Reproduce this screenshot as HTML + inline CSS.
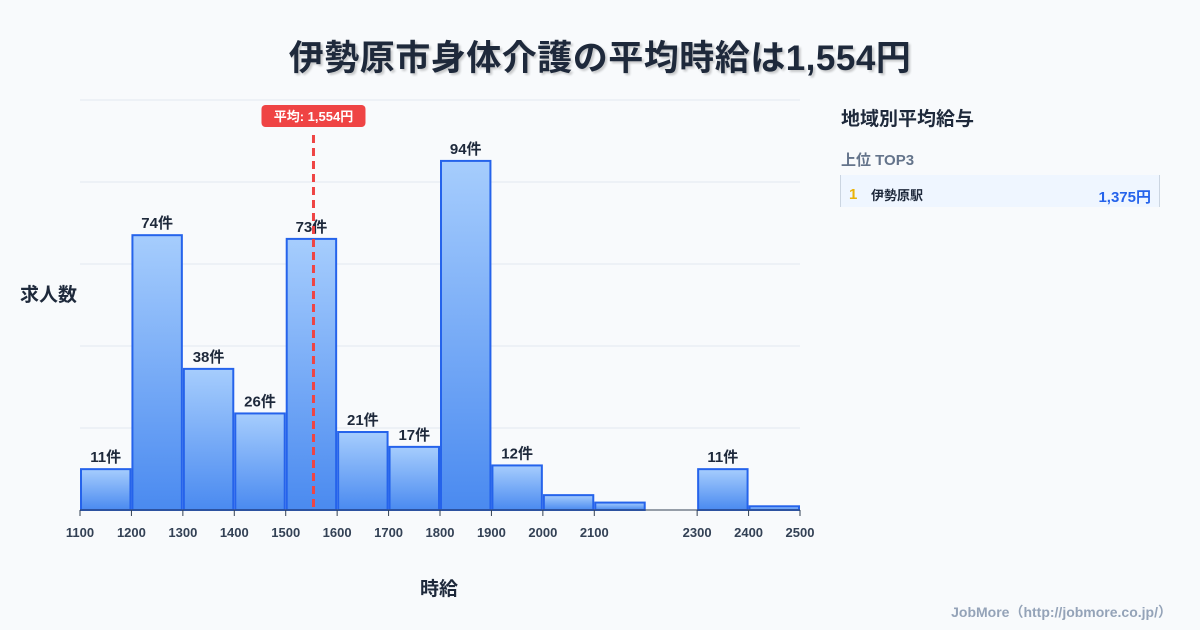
<!DOCTYPE html>
<html><head><meta charset="utf-8"><style>
body{margin:0;width:1200px;height:630px;background:#f8fafc;font-family:"Liberation Sans","Noto Sans CJK JP",sans-serif;overflow:hidden;position:relative}
.t{position:absolute}
</style></head><body>
<div class="t" style="left:0;width:1200px;top:30px;text-align:center;font-size:35px;letter-spacing:0.5px;font-weight:bold;color:#1e293b;text-shadow:2px 2px 2px rgba(0,0,0,0.2)">伊勢原市身体介護の平均時給は1,554円</div>
<svg id="c" class="t" style="left:0;top:0" width="820" height="630">
<defs><linearGradient id="g" x1="0" y1="0" x2="0" y2="1"><stop offset="0" stop-color="#a6cdfd"/><stop offset="1" stop-color="#4a8af0"/></linearGradient></defs>
</svg>
<div class="t" style="left:20px;top:280px;font-size:19px;font-weight:bold;color:#1e293b">求人数</div>
<div class="t" style="left:420px;top:574px;font-size:19px;font-weight:bold;color:#1e293b">時給</div>
<div class="t" style="left:841px;top:104px;font-size:19px;font-weight:bold;color:#1e293b">地域別平均給与</div>
<div class="t" style="left:841px;top:149px;font-size:15px;font-weight:bold;color:#64748b">上位 TOP3</div>
<div class="t" style="left:840px;top:175px;width:320px;height:32px;background:#eff6ff;border-left:1px solid #cbd5e1;border-right:1px solid #cbd5e1;box-sizing:border-box">
<span class="t" style="left:8px;top:11px;font-size:15px;font-weight:bold;color:#eab308">1</span>
<span class="t" style="left:30px;top:10px;font-size:13px;font-weight:bold;color:#1e293b">伊勢原駅</span>
<span class="t" style="right:8px;top:11px;font-size:15px;font-weight:bold;color:#2563eb">1,375円</span>
</div>
<div class="t" style="right:28px;top:602px;font-size:14px;font-weight:bold;color:#94a3b8">JobMore（http://jobmore.co.jp/）</div>
<script>
const binStarts=[1100,1200,1300,1400,1500,1600,1700,1800,1900,2000,2100,2400,2300];
const counts=[11,74,38,26,73,21,17,94,12,4,2,1,11];
const tickLabels=[1100,1200,1300,1400,1500,1600,1700,1800,1900,2000,2100,2300,2400,2500];
const avgWage=1554;
const ns="http://www.w3.org/2000/svg";
const svg=document.getElementById('c');
const x=v=>80+(v-1100)*720/1400;
const yMax=110.4;
const y=v=>510-v*410/yMax;
function mk(t,a){const e=document.createElementNS(ns,t);for(const k in a)e.setAttribute(k,a[k]);svg.appendChild(e);return e;}
for(let i=1;i<=5;i++){const gy=510-i*82;const l=mk('line',{x1:80,x2:800,y1:gy,y2:gy,stroke:'#e2e8f0','stroke-width':1});

}
binStarts.forEach((b,i)=>{const x0=x(b)+1,x1=x(b+100)-1,top=y(counts[i]);
const r=mk('rect',{x:x0,y:top,width:x1-x0,height:510-top,fill:'url(#g)',stroke:'#2563eb','stroke-width':2});


if(counts[i]>=10){const t=mk('text',{x:(x0+x1)/2,y:top-7,'text-anchor':'middle','font-size':15,'font-weight':'bold',fill:'#1e293b'});t.textContent=counts[i]+'件';

}});
const ax=mk('line',{x1:80,x2:800,y1:510,y2:510,stroke:'#334155','stroke-width':1});


tickLabels.forEach(v=>{mk('line',{x1:x(v),x2:x(v),y1:510,y2:516,stroke:'#334155'});
const t=mk('text',{x:x(v),y:537,'text-anchor':'middle','font-size':13,'font-weight':'bold',fill:'#334155'});t.textContent=v;

});
const ax2=x(avgWage);
const dl=mk('line',{x1:ax2,x2:ax2,y1:135,y2:510,stroke:'#ef4444','stroke-width':3,'stroke-dasharray':'8,5'});


const bx=mk('rect',{x:ax2-52,y:105,width:104,height:22,rx:4,fill:'#ef4444'});


const at=mk('text',{x:ax2,y:121,'text-anchor':'middle','font-size':13,'font-weight':'bold',fill:'#fff'});at.textContent='平均: 1,554円';


</script>
</body></html>
